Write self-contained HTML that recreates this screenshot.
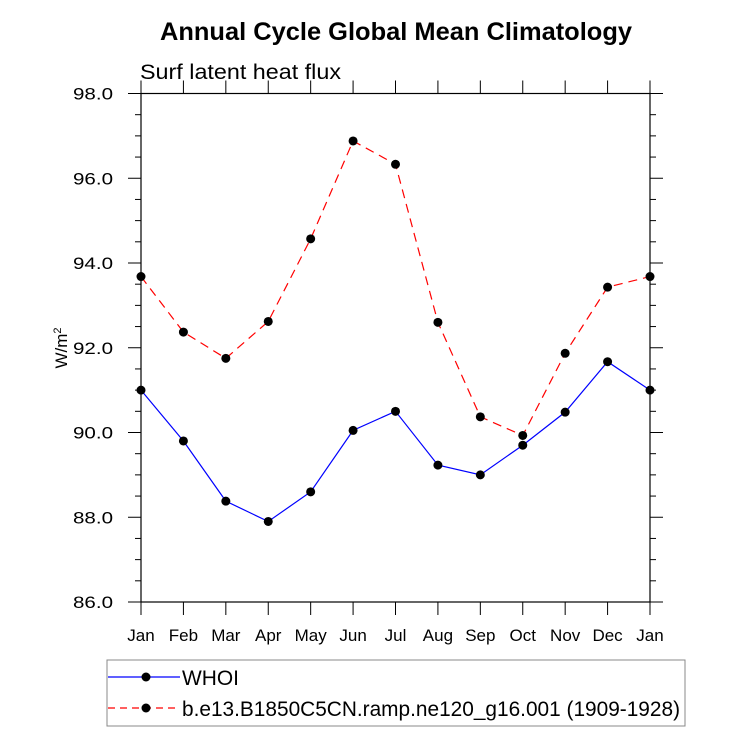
<!DOCTYPE html>
<html><head><meta charset="utf-8"><style>
body{margin:0;background:#fff}
svg text{font-family:"Liberation Sans",sans-serif}
</style></head><body>
<svg width="733" height="734" viewBox="0 0 733 734" xmlns="http://www.w3.org/2000/svg">
<text x="160" y="40" textLength="472" lengthAdjust="spacingAndGlyphs" font-size="25" font-weight="bold">Annual Cycle Global Mean Climatology</text>
<text x="140" y="79" textLength="201" lengthAdjust="spacingAndGlyphs" font-size="21">Surf latent heat flux</text>
<text transform="translate(67,348) rotate(-90)" text-anchor="middle" font-size="17">W/m<tspan dy="-6" font-size="11">2</tspan></text>
<g id="axes"></g>
<g id="series"></g>
<rect x="107" y="660" width="578" height="66" fill="none" stroke="#888" stroke-width="1"/>
<g>
<line x1="108" y1="677" x2="180" y2="677" stroke="#00f" stroke-width="1.2"/>
<circle cx="146" cy="677" r="4.5" fill="#000"/>
<text x="182" y="685" textLength="57" lengthAdjust="spacingAndGlyphs" font-size="21">WHOI</text></g>
<g>
<line x1="108" y1="708" x2="180" y2="708" stroke="#f00" stroke-width="1.2" stroke-dasharray="7,5"/>
<circle cx="146" cy="708" r="4.5" fill="#000"/>
<text x="182" y="716" textLength="498" lengthAdjust="spacingAndGlyphs" font-size="21">b.e13.B1850C5CN.ramp.ne120_g16.001 (1909-1928)</text></g>
</svg>
<script>
const months=["Jan","Feb","Mar","Apr","May","Jun","Jul","Aug","Sep","Oct","Nov","Dec","Jan"];
const whoi=[91.0,89.8,88.38,87.9,88.6,90.05,90.5,89.23,89.0,89.7,90.48,91.67,91.0];
const model=[93.68,92.37,91.75,92.62,94.57,96.88,96.33,92.6,90.37,89.93,91.87,93.43,93.68];
const yTicks=["86.0","88.0","90.0","92.0","94.0","96.0","98.0"];
const yMin=86,yMax=98;
const L=141,R=650,T=93.5,B=602;
const NS="http://www.w3.org/2000/svg";
const xs=i=>L+(R-L)*i/(months.length-1);
const ys=v=>B-(B-T)*(v-yMin)/(yMax-yMin);
function mk(tag,attrs,parent){const e=document.createElementNS(NS,tag);for(const k in attrs)e.setAttribute(k,attrs[k]);parent.appendChild(e);return e;}
const ax=document.getElementById('axes');
const fr=mk('rect',{x:L,y:T,width:R-L,height:B-T,fill:'none',stroke:'#000','stroke-width':1.2},ax);


months.forEach((m,i)=>{const x=xs(i);
mk('line',{x1:x,y1:B,x2:x,y2:B+13,stroke:'#000'},ax);
mk('line',{x1:x,y1:T,x2:x,y2:T-13,stroke:'#000'},ax);
const t=mk('text',{x:x,y:B+39,'text-anchor':'middle','font-size':17},ax);t.textContent=m;

});
for(let v=yMin;v<=yMax+1e-9;v+=0.5){const y=ys(v);const major=Math.abs(v/2-Math.round(v/2))<1e-9;const len=major?13:6;
mk('line',{x1:L,y1:y,x2:L-len,y2:y,stroke:'#000'},ax);
mk('line',{x1:R,y1:y,x2:R+len,y2:y,stroke:'#000'},ax);}
yTicks.forEach(s=>{const v=parseFloat(s);const t=mk('text',{x:73,y:ys(v)+6,'font-size':17,textLength:40,lengthAdjust:'spacingAndGlyphs'},ax);t.textContent=s;

});
const sg=document.getElementById('series');
function series(data,color,dash,name){const g=mk('g',{},sg);


mk('polyline',{points:data.map((v,i)=>xs(i)+','+ys(v)).join(' '),fill:'none',stroke:color,'stroke-width':1.2,'stroke-dasharray':dash},g);
data.forEach((v,i)=>{const c=mk('circle',{cx:xs(i),cy:ys(v),r:4.5,fill:'#000'},g);

});}
series(model,'#f00','9,6','model-series');
series(whoi,'#00f','none','whoi-series');
</script>
</body></html>
